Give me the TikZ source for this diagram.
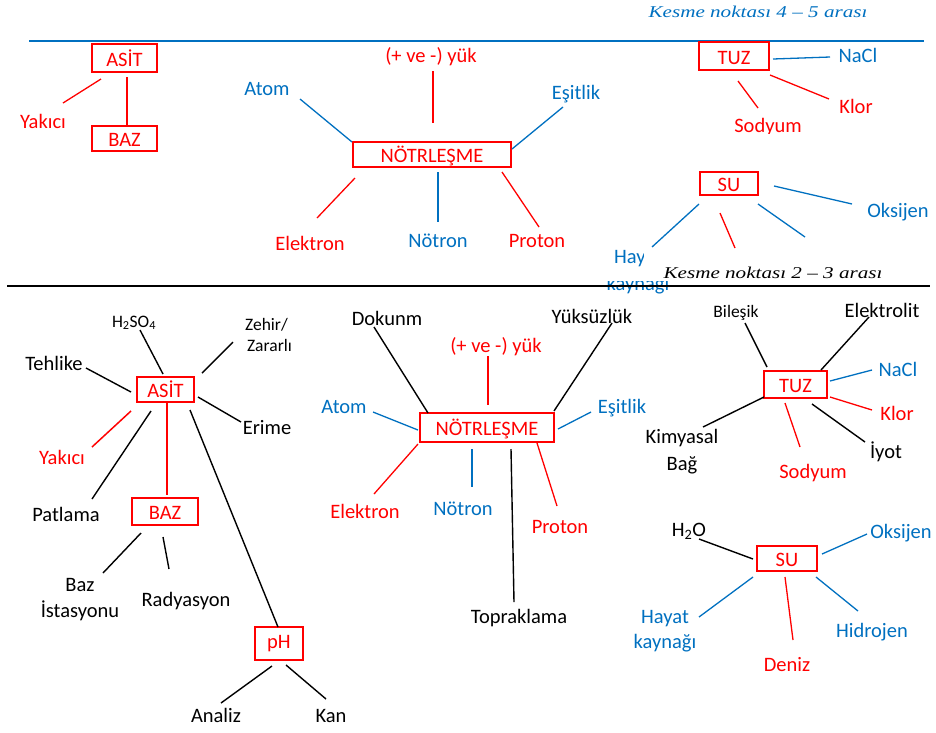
\documentclass[tikz,border=0pt]{standalone}
\usepackage{fontspec}
\setmainfont{Carlito}
\newfontfamily\serifit[Ligatures=TeX]{Liberation Serif}
\definecolor{wred}{HTML}{FF0000}
\definecolor{wblue}{HTML}{0070C0}
\begin{document}
\begin{tikzpicture}[x=1pt,y=-1pt,
  lb/.style={anchor=base, inner sep=0pt, font=\fontsize{20.5}{24}\selectfont},
  sm/.style={lb, font=\fontsize{17.5}{21}\selectfont},
  rt/.style={lb, text=wred},
  bt/.style={lb, text=wblue},
  box/.style={draw=wred, text=wred, line width=1.4pt, inner sep=0pt,
    font=\fontsize{20.5}{24}\selectfont, text height=16.8pt, text depth=0pt},
  thinbox/.style={box, line width=1.2pt},
  rl/.style={wred, line width=1.3pt},
  bl/.style={wblue, line width=1.3pt},
  kl/.style={black, line width=1.4pt},
  cut/.style={anchor=base, inner sep=0pt, font=\serifit\itshape\fontsize{16.5}{20}\selectfont}]
\useasboundingbox (0,0) rectangle (936,732);

% ---------- upper part ----------
\node[cut, text=wblue] (kesme45) at (758,17) {\scalebox{1.28}[1]{Kesme noktası 4 – 5 arası}};
\draw[wblue, line width=1.2pt] (29,41) -- (924,41);

\node[thinbox, minimum width=65pt, minimum height=28pt] (asit1) at (124.5,58) {ASİT};
\node[thinbox, minimum width=65pt, minimum height=25pt] (baz1) at (124.5,138.5) {BAZ};
\node[rt] (yak1) at (43,128) {Yakıcı};
\draw[rl] (101,79) -- (63,103);
\draw[rl] (127,77) -- (127,126);

\node[thinbox, minimum width=158pt, minimum height=25pt] (notr1) at (432,154.5) {NÖTRLEŞME};
\node[bt] (atom1) at (267,95) {Atom};
\node[rt] (yuk1) at (431,62) {(+ ve -) yük};
\node[bt] (esit1) at (576,99) {Eşitlik};
\node[rt] (elek1) at (310,250) {Elektron};
\node[bt] (notron1) at (438,247) {Nötron};
\node[rt] (prot1) at (537,247) {Proton};
\draw[bl] (300,99) -- (352,142);
\draw[rl] (433,71) -- (433,123);
\draw[bl] (563,107) -- (512,149);
\draw[rl] (355,178) -- (317,218);
\draw[bl] (438,172) -- (438,222);
\draw[rl] (502,172) -- (539,227);

\node[thinbox, minimum width=70pt, minimum height=28pt] (tuz1) at (734,56) {TUZ};
\node[bt] (nacl1) at (858,62) {NaCl};
\node[rt] (klor1) at (856,113) {Klor};
\begin{scope}
  \clip (700,100) rectangle (820,133.5);
  \node[rt] (sod1) at (768,132) {Sodyum};
\end{scope}
\draw[bl] (773,59) -- (830,57);
\draw[rl] (770,75) -- (829,99);
\draw[rl] (738,81) -- (758,108);

\node[thinbox, minimum width=58pt, minimum height=23pt] (su1) at (729,183.5) {SU};
\node[bt] (oks1) at (898,217) {Oksijen};
\draw[bl] (774,186) -- (852,204);
\draw[bl] (699,204) -- (652,247);
\draw[rl] (720,213) -- (735,248);
\draw[bl] (758,204) -- (805,237);

% label partly hidden behind the caption box
\begin{scope}
  \clip (590,240) rectangle (643,270);
  \node[bt] (hay1) at (638,263) {Hayat};
\end{scope}
\begin{scope}
  \clip (590,281) rectangle (700,300);
  \node[bt] (kay1) at (638,290) {kaynağı};
\end{scope}
\begin{scope}
  \clip (640,250) rectangle (900,279);
  \node[cut] (kesme23) at (773,278) {\scalebox{1.28}[1]{Kesme noktası 2 – 3 arası}};
\end{scope}

\draw[black, line width=1.8pt] (7,286) -- (930,286);

% ---------- lower part: ASİT ----------
\node[box, minimum width=57pt, minimum height=25pt] (asit2) at (165.5,389.5) {ASİT};
\node[box, minimum width=66pt, minimum height=27pt] (baz2) at (165,511.5) {BAZ};
\node[box, minimum width=48pt, minimum height=33pt, text height=10pt] (ph) at (279,643.5) {pH};
\node[sm] (h2so4) at (134,327) {H\textsubscript{2}SO\textsubscript{4}};
\node[sm] (zehir) at (266.5,330) {Zehir/};
\node[sm] (zarar) at (269.5,351) {Zararlı};
\node[lb] (tehl) at (54,370) {Tehlike};
\node[lb] (erime) at (267,434) {Erime};
\node[rt] (yak2) at (62,464) {Yakıcı};
\node[lb] (patl) at (66,521) {Patlama};
\node[lb] (baz) at (80,591) {Baz};
\node[lb] (istas) at (80,617) {İstasyonu};
\node[lb] (rady) at (186,606) {Radyasyon};
\node[lb] (analiz) at (216,722) {Analiz};
\node[lb] (kan) at (331,722) {Kan};
\draw[kl] (140,330) -- (163,374);
\draw[kl] (233,342) -- (202,373);
\draw[kl] (86,368) -- (131,392);
\draw[kl] (198,397) -- (241,422);
\draw[rl, line width=1.5pt] (131,411) -- (92,447);
\draw[kl] (151,411) -- (92,499);
\draw[rl, line width=1.5pt] (167,403) -- (167,495);
\draw[kl] (190,410) -- (278,627);
\draw[kl] (141,533) -- (103,573);
\draw[kl] (163,537) -- (169,569);
\draw[kl] (272,666) -- (221,703);
\draw[kl] (286,665) -- (326,699);

% ---------- lower part: NÖTRLEŞME ----------
\node[box, minimum width=134pt, minimum height=29pt] (notr2) at (487,427.5) {NÖTRLEŞME};
\node[lb] (dok) at (387,325) {Dokunm};
\node[rt] (yuk2) at (496,352) {(+ ve -) yük};
\node[lb] (yuks) at (592,323) {Yüksüzlük};
\node[bt] (atom2) at (344,413) {Atom};
\node[bt] (esit2) at (622,413) {Eşitlik};
\node[rt] (elek2) at (365,518) {Elektron};
\node[bt] (notron2) at (463,515) {Nötron};
\node[lb] (topr) at (519,623) {Topraklama};
\node[rt] (prot2) at (560,533) {Proton};
\draw[kl] (374,327) -- (428,413);
\draw[rl] (488,356) -- (488,405);
\draw[kl] (612,323) -- (554,411);
\draw[bl] (373,412) -- (418,430);
\draw[bl] (591,412) -- (558,429);
\draw[rl] (418,444) -- (374,494);
\draw[bl] (472,449) -- (472,487);
\draw[kl] (511,449) -- (514,602);
\draw[rl] (537,443) -- (557,506);

% ---------- lower part: TUZ ----------
\node[box, minimum width=63pt, minimum height=27pt] (tuz2) at (795.5,384.5) {TUZ};
\node[sm] (biles) at (736,317) {Bileşik};
\node[lb] (elekt) at (882,317) {Elektrolit};
\node[bt] (nacl2) at (898,376) {NaCl};
\node[rt] (klor2) at (897,420) {Klor};
\node[lb] (kimy) at (682,443) {Kimyasal};
\node[lb] (bag) at (682,470) {Bağ};
\node[rt] (sod2) at (813,478) {Sodyum};
\node[lb] (iyot) at (886,458) {İyot};
\draw[kl] (745,323) -- (767,367);
\draw[kl] (869,317) -- (821,370);
\draw[bl] (872,370) -- (830,381);
\draw[rl] (830,397) -- (872,410);
\draw[kl] (764,397) -- (703,427);
\draw[rl] (785,403) -- (800,447);
\draw[kl] (812,404) -- (865,442);

% ---------- lower part: SU ----------
\node[box, minimum width=60pt, minimum height=25pt] (su2) at (787,558.5) {SU};
\node[lb] (h2o) at (689,536) {H\textsubscript{2}O};
\node[bt] (oks2) at (901,538) {Oksijen};
\node[bt] (hay2) at (665,623) {Hayat};
\node[bt] (kay2) at (665,648) {kaynağı};
\node[bt] (hidr) at (872,637) {Hidrojen};
\node[rt] (deniz) at (787,671) {Deniz};
\draw[kl] (699,539) -- (753,559);
\draw[bl] (867,534) -- (822,554);
\draw[bl] (753,577) -- (699,617);
\draw[rl] (785,577) -- (793,640);
\draw[bl] (816,577) -- (858,611);
\end{tikzpicture}
\end{document}
